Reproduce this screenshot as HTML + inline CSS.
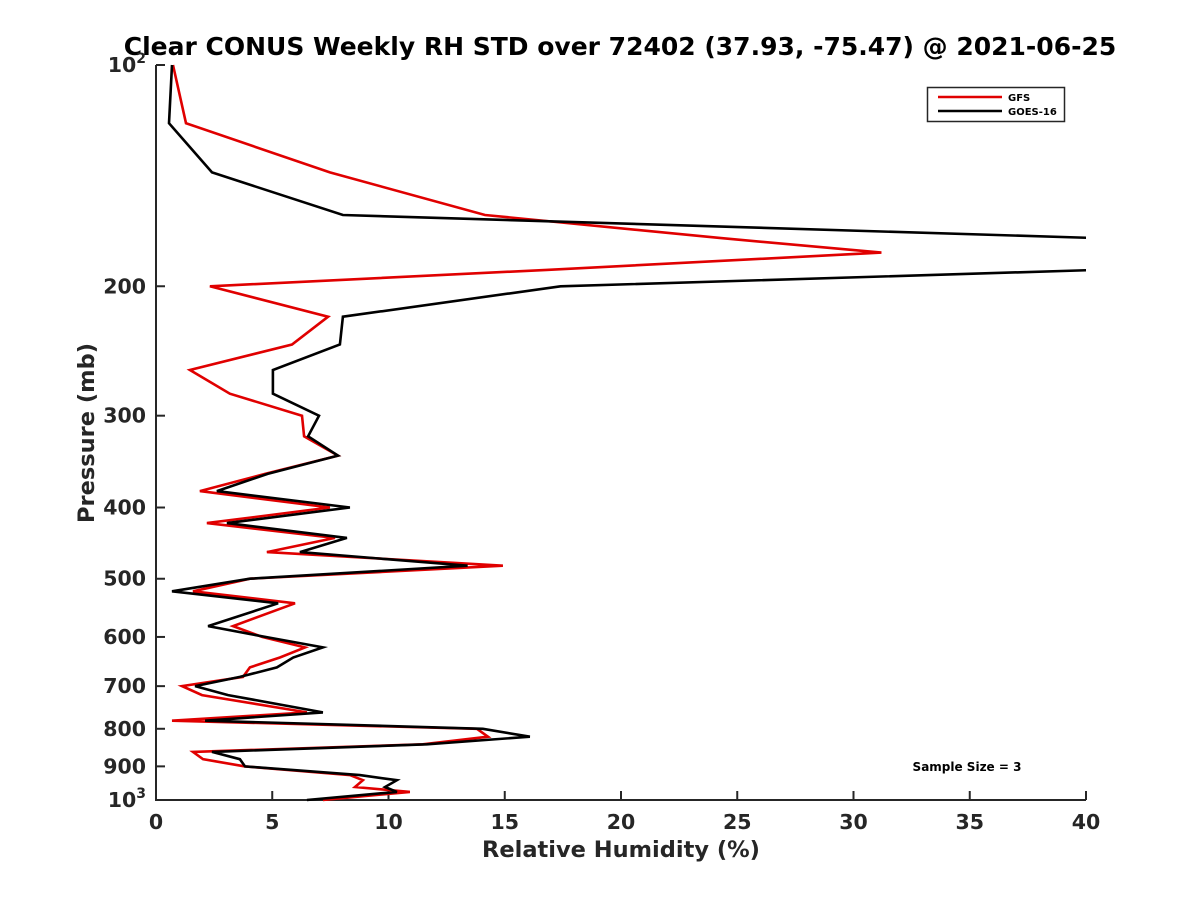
<!DOCTYPE html>
<html><head><meta charset="utf-8"><style>
html,body{margin:0;padding:0;background:#fff;}
svg{display:block;font-family:"DejaVu Sans","Liberation Sans",sans-serif;font-weight:bold;}
</style></head><body>
<svg id="chart" width="1200" height="900" viewBox="0 0 1200 900">
<defs><clipPath id="plotclip"><rect x="156" y="60" width="930" height="742"/></clipPath></defs>
<text x="620" y="55" text-anchor="middle" font-size="25" fill="#000">Clear CONUS Weekly RH STD over 72402 (37.93, -75.47) @ 2021-06-25</text>
<g id="axes"></g>
<g id="series" clip-path="url(#plotclip)"></g>
<g>
<rect x="927.5" y="87.5" width="137" height="34" fill="#fff" stroke="#262626" stroke-width="1.5"/>
<line x1="938" y1="97" x2="1002" y2="97" stroke="#e00000" stroke-width="2.5"/>
<text x="1008" y="101" font-size="10" fill="#000">GFS</text>
<line x1="938" y1="111" x2="1002" y2="111" stroke="#000" stroke-width="2.5"/>
<text x="1008" y="115" font-size="10" fill="#000">GOES-16</text>
</g>
<text x="967" y="771" text-anchor="middle" font-size="12" fill="#000">Sample Size = 3</text>
<text x="621" y="857" text-anchor="middle" font-size="22.5" fill="#262626">Relative Humidity (%)</text>
<text transform="translate(94,433) rotate(-90)" text-anchor="middle" font-size="22.5" fill="#262626">Pressure (mb)</text>
</svg>
<script>
const pressures = [100,120,140,160,172,180,190,200,220,240,260,280,300,320,340,360,380,400,420,440,460,480,500,520,540,580,600,620,640,660,680,700,720,760,780,800,820,840,860,880,900,925,940,960,975,1000];
const gfsValues = [0.73,1.29,7.48,14.15,24.3,31.2,16.8,2.32,7.4,5.85,1.46,3.18,6.28,6.37,7.83,4.69,1.89,7.48,2.19,7.70,4.77,14.92,4.04,1.59,5.98,3.31,4.56,6.41,5.33,4.04,3.74,1.12,1.98,6.49,0.69,13.8,14.28,11.48,1.59,2.02,3.83,8.34,8.9,8.56,10.92,7.18];
const goesValues = [0.69,0.56,2.41,8.04,40.5,45,40.5,17.4,8.04,7.91,5.03,5.03,7.01,6.54,7.83,4.8,2.62,8.34,3.05,8.21,6.19,13.4,4.04,0.69,5.25,2.24,4.7,7.18,5.9,5.2,3.61,1.68,3.1,7.18,2.11,14.06,16.08,11.65,2.41,3.61,3.83,8.77,10.36,9.85,10.36,6.49];
const xTicks = [0,5,10,15,20,25,30,35,40];
const yTicks = [100,200,300,400,500,600,700,800,900,1000];
const yTickLabels = ["10^2","200","300","400","500","600","700","800","900","10^3"];

const NS = "http://www.w3.org/2000/svg";
const X0 = 156, X1 = 1086, Y0 = 65, Y1 = 800;
function xScale(v){ return X0 + (v - 0) / 40 * (X1 - X0); }
function yScale(p){ return Y0 + (Math.log10(p) - 2) * (Y1 - Y0); }
function mk(tag, attrs){ const e = document.createElementNS(NS, tag); for (const k in attrs) e.setAttribute(k, attrs[k]); return e; }

const axes = document.getElementById('axes');
const axisPath = mk('path', {d:`M${X0},${Y0} L${X0},${Y1} L${X1},${Y1}`, fill:'none', stroke:'#262626', 'stroke-width':2});


axes.appendChild(axisPath);

xTicks.forEach(v => {
  const x = xScale(v);
  const t = mk('line', {x1:x, y1:Y1, x2:x, y2:Y1-9, stroke:'#262626', 'stroke-width':2});
  
  
  axes.appendChild(t);
  const l = mk('text', {x:x, y:Y1+29, 'text-anchor':'middle', 'font-size':20.5, fill:'#262626'});
  l.textContent = String(v);
  
  
  axes.appendChild(l);
});

yTicks.forEach((p, i) => {
  const y = yScale(p);
  const t = mk('line', {x1:X0, y1:y, x2:X0+9, y2:y, stroke:'#262626', 'stroke-width':2});
  
  
  axes.appendChild(t);
  const lab = yTickLabels[i];
  const l = mk('text', {x:146, y:y+7, 'text-anchor':'end', 'font-size':20.5, fill:'#262626'});
  if (lab.indexOf('^') >= 0) {
    const parts = lab.split('^');
    const b = mk('tspan', {}); b.textContent = parts[0];
    const s = mk('tspan', {dy:-9, 'font-size':14}); s.textContent = parts[1];
    l.appendChild(b); l.appendChild(s);
  } else {
    l.textContent = lab;
  }
  
  
  axes.appendChild(l);
});

const series = document.getElementById('series');
function drawLine(vals, color, name){
  const pts = vals.map((v, i) => xScale(v).toFixed(1) + ',' + yScale(pressures[i]).toFixed(1)).join(' ');
  const pl = mk('polyline', {points:pts, fill:'none', stroke:color, 'stroke-width':2.6, 'stroke-linejoin':'miter'});
  
  
  series.appendChild(pl);
}
drawLine(gfsValues, '#e00000', 'gfs-line');
drawLine(goesValues, '#000000', 'goes16-line');
</script>
</body></html>
